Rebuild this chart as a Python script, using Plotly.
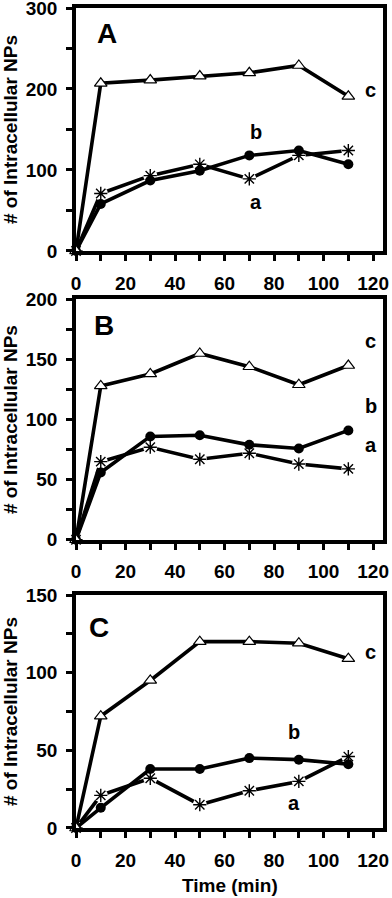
import plotly.graph_objects as go

# ── Data ──────────────────────────────────────────────────────────────────────
time_min = [0, 10, 30, 50, 70, 90, 110]

# Panel A
a_star = [0, 71, 93, 107, 89, 118, 124]
a_circle = [0, 58, 87, 99, 118, 124, 107]
a_triangle = [0, 207, 211, 216, 220, 229, 191]

# Panel B
b_star = [0, 65, 77, 67, 72, 63, 59]
b_circle = [0, 56, 86, 87, 79, 76, 91]
b_triangle = [0, 128, 138, 155, 144, 129, 145]

# Panel C
c_star = [0, 21, 32, 15, 24, 30, 46]
c_circle = [0, 13, 38, 38, 45, 44, 41]
c_triangle = [0, 72, 95, 120, 120, 119, 109]

panel_letters = ["A", "B", "C"]
y_max = [300, 200, 150]
y_minor = [50, 25, 25]
y_major = [100, 50, 50]

# label positions (data coords) for a / b / c and panel letter
series_label_pos = [
    {"a": (72.5, 60), "b": (72.5, 147), "c": (119, 199)},
    {"a": (119, 79), "b": (119, 111), "c": (119, 165)},
    {"a": (88, 16), "b": (88, 62), "c": (119, 113)},
]
letter_pos = [(12.5, 268), (11.2, 178), (9.2, 129)]

panels = [
    (a_star, a_circle, a_triangle),
    (b_star, b_circle, b_triangle),
    (c_star, c_circle, c_triangle),
]

FONT = "Liberation Sans, Arial, sans-serif"
LW = 3.6

# panel vertical domains (paper coords) with margin t=8, b=70
domains = [[0.7037, 1.0], [0.3515, 0.6446], [0.0, 0.2841]]

fig = go.Figure()

for i, (star, circle, tri) in enumerate(panels):
    xa = "x" if i == 0 else f"x{i + 1}"
    ya = "y" if i == 0 else f"y{i + 1}"

    # series a: asterisk, with a white halo so the line breaks around the marker
    fig.add_trace(go.Scatter(
        x=time_min, y=star, xaxis=xa, yaxis=ya, mode="lines",
        line=dict(color="black", width=LW), cliponaxis=False, showlegend=False,
    ))
    fig.add_trace(go.Scatter(
        x=time_min, y=star, xaxis=xa, yaxis=ya, mode="markers",
        marker=dict(symbol="circle", size=14, color="white", line=dict(width=0)),
        cliponaxis=False, showlegend=False,
    ))
    fig.add_trace(go.Scatter(
        x=time_min, y=star, xaxis=xa, yaxis=ya, mode="markers",
        marker=dict(symbol="asterisk-open", size=11, color="black",
                    line=dict(color="black", width=1.4)),
        cliponaxis=False, showlegend=False,
    ))
    # series b: filled circles
    fig.add_trace(go.Scatter(
        x=time_min, y=circle, xaxis=xa, yaxis=ya, mode="lines+markers",
        line=dict(color="black", width=LW),
        marker=dict(symbol="circle", size=10, color="black"),
        cliponaxis=False, showlegend=False,
    ))
    # series c: open triangles
    fig.add_trace(go.Scatter(
        x=time_min, y=tri, xaxis=xa, yaxis=ya, mode="lines+markers",
        line=dict(color="black", width=LW),
        marker=dict(symbol="triangle-up", size=11, color="white",
                    line=dict(color="black", width=1.2)),
        cliponaxis=False, showlegend=False,
    ))

    # axes
    x_ticks = list(range(0, 121, 10))
    x_text = [str(v) if v % 20 == 0 else "" for v in x_ticks]
    y_ticks = list(range(0, y_max[i] + 1, y_minor[i]))
    y_text = [str(v) if v % y_major[i] == 0 else "" for v in y_ticks]

    xkey = "xaxis" if i == 0 else f"xaxis{i + 1}"
    ykey = "yaxis" if i == 0 else f"yaxis{i + 1}"
    fig.update_layout({
        xkey: dict(
            domain=[0, 1], anchor=ya, range=[0, 124], automargin=False,
            tickvals=x_ticks, ticktext=x_text,
            ticks="outside", ticklen=6, tickwidth=3, tickcolor="black",
            showline=True, linewidth=3.5, linecolor="black", mirror=True,
            showgrid=False, zeroline=False, ticklabelstandoff=6,
            ticklabeloverflow="allow",
            tickfont=dict(family=FONT, size=19, color="black", weight="bold"),
        ),
        ykey: dict(
            domain=domains[i], anchor=xa, range=[0, y_max[i]], automargin=False,
            tickvals=y_ticks, ticktext=y_text,
            ticks="outside", ticklen=6, tickwidth=3, tickcolor="black",
            showline=True, linewidth=3.5, linecolor="black", mirror=True,
            showgrid=False, zeroline=False, ticklabelstandoff=5,
            ticklabeloverflow="allow",
            tickfont=dict(family=FONT, size=19, color="black", weight="bold"),
            title=dict(
                text="# of Intracellular NPs",
                font=dict(family=FONT, size=19, color="black", weight="bold"),
                standoff=8,
            ),
        ),
    })

    # panel letter
    lx, ly = letter_pos[i]
    fig.add_annotation(
        x=lx, y=ly, xref=xa, yref=ya, text=panel_letters[i], showarrow=False,
        font=dict(family=FONT, size=28, color="black", weight="bold"),
    )
    # series labels
    for name, (sx, sy) in series_label_pos[i].items():
        fig.add_annotation(
            x=sx, y=sy, xref=xa, yref=ya, text=name, showarrow=False,
            font=dict(family=FONT, size=20, color="black", weight="bold"),
        )

# x-axis title under the bottom panel
fig.add_annotation(
    x=0.5, y=0, xref="x3 domain", yref="paper", yanchor="middle",
    yshift=-57, text="Time (min)", showarrow=False,
    font=dict(family=FONT, size=19, color="black", weight="bold"),
)

fig.update_layout(
    width=392, height=898,
    margin=dict(l=76, r=9, t=8, b=70, autoexpand=False),
    plot_bgcolor="white", paper_bgcolor="white",
    showlegend=False,
)

# the page body has a default 8px margin; drop it so the figure fills the window
fig.write_html(
    "out.html",
    config={"displayModeBar": False},
    post_script="document.body.style.margin='0';",
)
